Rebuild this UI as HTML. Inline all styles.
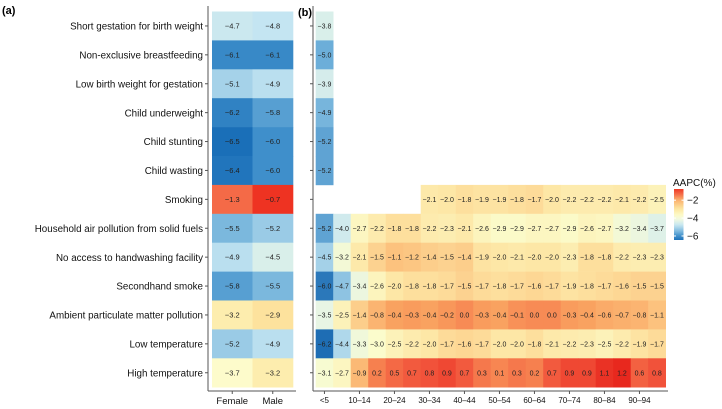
<!DOCTYPE html>
<html><head><meta charset="utf-8"><style>
html,body{margin:0;padding:0;background:#fff;}
svg{display:block;font-family:"Liberation Sans",sans-serif;}
</style></head><body>
<svg id="chart" width="722" height="409" viewBox="0 0 722 409"></svg>
<script>
const risks = ["Short gestation for birth weight","Non-exclusive breastfeeding","Low birth weight for gestation","Child underweight","Child stunting","Child wasting","Smoking","Household air pollution from solid fuels","No access to handwashing facility","Secondhand smoke","Ambient particulate matter pollution","Low temperature","High temperature"];
const sexes = ["Female","Male"];
const femaleVals = [-4.7,-6.1,-5.1,-6.2,-6.5,-6.4,-1.3,-5.5,-4.9,-5.8,-3.2,-5.2,-3.7];
const maleVals = [-4.8,-6.1,-4.9,-5.8,-6.0,-6.0,-0.7,-5.2,-4.5,-5.5,-2.9,-4.9,-3.2];
const ageGroups = ["<5","5–9","10–14","15–19","20–24","25–29","30–34","35–39","40–44","45–49","50–54","55–59","60–64","65–69","70–74","75–79","80–84","85–89","90–94","95+"];
const ageTickLabels = ["<5","10–14","20–24","30–34","40–44","50–54","60–64","70–74","80–84","90–94"];
const rowShortGest = [-3.8];
const rowNonExcl = [-5.0];
const rowLowBw = [-3.9];
const rowUnderweight = [-4.9];
const rowStunting = [-5.2];
const rowWasting = [-5.2];
const rowSmoking = [null,null,null,null,null,null,-2.1,-2.0,-1.8,-1.9,-1.9,-1.8,-1.7,-2.0,-2.2,-2.2,-2.2,-2.1,-2.2,-2.5];
const rowHousehold = [-5.2,-4.0,-2.7,-2.2,-1.8,-1.8,-2.2,-2.3,-2.1,-2.6,-2.9,-2.9,-2.7,-2.7,-2.9,-2.6,-2.7,-3.2,-3.4,-3.7];
const rowHandwash = [-4.5,-3.2,-2.1,-1.5,-1.1,-1.2,-1.4,-1.5,-1.4,-1.9,-2.0,-2.1,-2.0,-2.0,-2.3,-1.8,-1.8,-2.2,-2.3,-2.3];
const rowSecondhand = [-6.0,-4.7,-3.4,-2.6,-2.0,-1.8,-1.8,-1.7,-1.5,-1.7,-1.8,-1.7,-1.6,-1.7,-1.9,-1.8,-1.7,-1.6,-1.5,-1.5];
const rowAmbient = [-3.5,-2.5,-1.4,-0.8,-0.4,-0.3,-0.4,-0.2,0.0,-0.3,-0.4,-0.1,0.0,0.0,-0.3,-0.4,-0.6,-0.7,-0.8,-1.1];
const rowLowTemp = [-6.2,-4.4,-3.3,-3.0,-2.5,-2.2,-2.0,-1.7,-1.6,-1.7,-2.0,-2.0,-1.8,-2.1,-2.2,-2.3,-2.5,-2.2,-1.9,-1.7];
const rowHighTemp = [-3.1,-2.7,-0.9,0.2,0.5,0.7,0.8,0.9,0.7,0.3,0.1,0.3,0.2,0.7,0.9,0.9,1.1,1.2,0.6,0.8];
const legendTicks = [-2,-4,-6];

const panelB = [rowShortGest,rowNonExcl,rowLowBw,rowUnderweight,rowStunting,rowWasting,rowSmoking,rowHousehold,rowHandwash,rowSecondhand,rowAmbient,rowLowTemp,rowHighTemp];
const NS="http://www.w3.org/2000/svg";
const svg=document.getElementById('chart');
function mk(tag,attrs,parent){const e=document.createElementNS(NS,tag);for(const k in attrs)e.setAttribute(k,attrs[k]);(parent||svg).appendChild(e);return e;}
function lerp(a,b,t){return Math.round(a+(b-a)*t);}
function hex(h){return [parseInt(h.slice(1,3),16),parseInt(h.slice(3,5),16),parseInt(h.slice(5,7),16)];}
function scale(stops,v){
  if(v<=stops[0][0])return stops[0][1];
  for(let i=1;i<stops.length;i++){if(v<=stops[i][0]){const t=(v-stops[i-1][0])/(stops[i][0]-stops[i-1][0]);const a=hex(stops[i-1][1]),b=hex(stops[i][1]);return `rgb(${lerp(a[0],b[0],t)},${lerp(a[1],b[1],t)},${lerp(a[2],b[2],t)})`;}}
  return stops[stops.length-1][1];
}
const stopsA=[[-6.5,"#1a6fb8"],[-6.0,"#3f8fcb"],[-5.5,"#7bb8dd"],[-4.8,"#c4e5f2"],[-4.2,"#eef8e2"],[-3.7,"#fdfbcb"],[-3.0,"#fde7a2"],[-2.0,"#fbb36f"],[-1.3,"#f46a47"],[-0.7,"#ee3322"]];
const stopsB=[[-6.2,"#1e6db4"],[-5.0,"#6caed9"],[-4.2,"#c6e6f1"],[-3.5,"#e8f5e4"],[-3.0,"#fbfccc"],[-2.0,"#fde7a6"],[-1.2,"#fcc682"],[-0.4,"#f9a260"],[0.2,"#f6804f"],[0.8,"#f1523a"],[1.2,"#e8281e"]];

const topY=11.5,rh=28.9;
const yOf=i=>topY+i*rh;
let t=mk('text',{x:2,y:14,'font-size':11,'font-weight':'bold',fill:'#000'});t.textContent='(a)';

t=mk('text',{x:298,y:16,'font-size':11,'font-weight':'bold',fill:'#000'});t.textContent='(b)';


const ax0=212,acw=40.5;
const ga=mk('g',{});
[femaleVals,maleVals].forEach((arr,c)=>{
  arr.forEach((v,i)=>{
    const r=mk('rect',{x:ax0+c*acw,y:yOf(i),width:acw+0.3,height:rh+0.3,fill:scale(stopsA,v)},ga);
    
    
    const tx=mk('text',{x:ax0+c*acw+acw/2,y:yOf(i)+rh/2+2.5,'font-size':7.5,'text-anchor':'middle',fill:'#222'},ga);
    tx.textContent=(v<0?'−':'')+Math.abs(v).toFixed(1);
    
    
  });
});
mk('line',{x1:208,y1:6,x2:208,y2:391,stroke:'#555','stroke-width':1});
mk('line',{x1:208,y1:391,x2:296,y2:391,stroke:'#555','stroke-width':1});
risks.forEach((name,i)=>{
  const y=yOf(i)+rh/2;
  mk('line',{x1:205,y1:y,x2:208,y2:y,stroke:'#555'});
  const tx=mk('text',{x:203,y:y+3.6,'font-size':9.8,'text-anchor':'end',fill:'#111'});
  tx.textContent=name;
  
  
});
sexes.forEach((s,c)=>{
  const x=ax0+c*acw+acw/2;
  mk('line',{x1:x,y1:391,x2:x,y2:394,stroke:'#555'});
  const tx=mk('text',{x:x,y:404,'font-size':9.5,'text-anchor':'middle',fill:'#111'});
  tx.textContent=s;
  
  
});

const bx0=315.7,bcw=17.5;
const gb=mk('g',{});
panelB.forEach((row,i)=>{
  row.forEach((v,c)=>{
    if(v===null)return;
    const r=mk('rect',{x:bx0+c*bcw,y:yOf(i),width:bcw+0.3,height:rh+0.3,fill:scale(stopsB,v)},gb);
    
    
    const tx=mk('text',{x:bx0+c*bcw+bcw/2,y:yOf(i)+rh/2+2.5,'font-size':7,'text-anchor':'middle',fill:'#222'},gb);
    tx.textContent=(v<0?'−':'')+Math.abs(v).toFixed(1);
    
    
  });
});
mk('line',{x1:313,y1:6,x2:313,y2:391,stroke:'#555','stroke-width':1});
mk('line',{x1:313,y1:391,x2:668,y2:391,stroke:'#555','stroke-width':1});
risks.forEach((name,i)=>{const y=yOf(i)+rh/2;mk('line',{x1:310,y1:y,x2:313,y2:y,stroke:'#555'});});
ageGroups.forEach((g,c)=>{
  if(ageTickLabels.indexOf(g)<0)return;
  const x=bx0+c*bcw+bcw/2;
  mk('line',{x1:x,y1:391,x2:x,y2:394,stroke:'#555'});
  const tx=mk('text',{x:x,y:403,'font-size':8,'text-anchor':'middle',fill:'#111'});
  tx.textContent=g;
  
  
});

const lg=mk('g',{});
const lt=mk('text',{x:673,y:186,'font-size':10,fill:'#111'},lg);lt.textContent='AAPC(%)';

const defs=mk('defs',{});
const gr=mk('linearGradient',{id:'lgGrad',x1:0,y1:1,x2:0,y2:0},defs);
const lmin=-6.45,lmax=-0.75;
for(let k=0;k<=20;k++){const v=lmin+(lmax-lmin)*k/20;mk('stop',{offset:(k/20),'stop-color':scale(stopsA,v)},gr);}
const cb=mk('rect',{x:674,y:189,width:9.5,height:51,fill:'url(#lgGrad)'},lg);

const ly=v=>189+(lmax-v)/(lmax-lmin)*51;
legendTicks.forEach(v=>{
  const y=ly(v);
  mk('line',{x1:674,y1:y,x2:676,y2:y,stroke:'#fff'},lg);
  mk('line',{x1:681.5,y1:y,x2:683.5,y2:y,stroke:'#fff'},lg);
  const tx=mk('text',{x:687,y:y+3.5,'font-size':10,fill:'#111'},lg);
  tx.textContent='−'+Math.abs(v);
  
  
});
</script>
</body></html>
